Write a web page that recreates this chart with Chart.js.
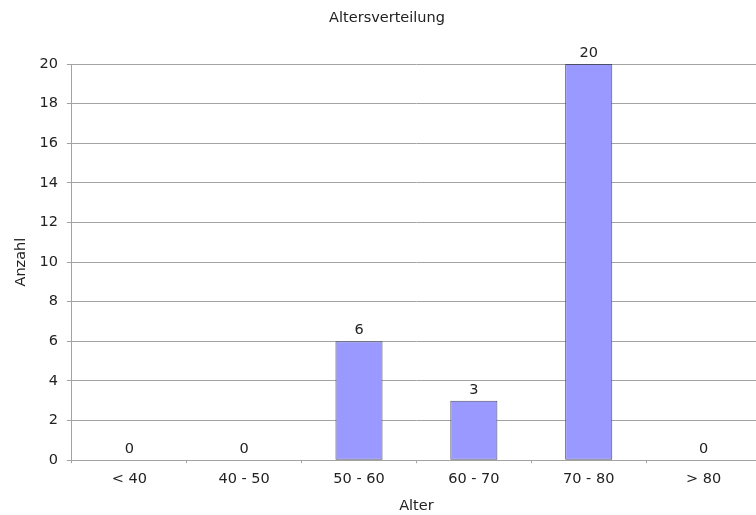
<!DOCTYPE html>
<html>
<head>
<meta charset="utf-8">
<script src="https://cdn.jsdelivr.net/npm/chart.js@4/dist/chart.umd.min.js"></script>
<style>
  html, body { margin: 0; padding: 0; background: #fff; overflow: hidden; }
  #wrap { width: 770px; height: 515px; }
</style>
</head>
<body>
<div id="wrap"><canvas id="chart" width="770" height="515"></canvas></div>
<script>
const categories = [`< 40`, `40 - 50`, `50 - 60`, `60 - 70`, `70 - 80`, `> 80`];
const counts = [0, 0, 6, 3, 20, 0];
const chartTitle = `Altersverteilung`;
const xTitle = `Alter`;
const yTitle = `Anzahl`;

const FONT = `"DejaVu Sans", Verdana, sans-serif`;
const FONT_SIZE = 14.5;
const TEXT_COLOR = `#222`;
const GRID_COLOR = `#a3a3a3`;

// values above the bars
const valueLabels = {
  id: `valueLabels`,
  afterDatasetsDraw(chart) {
    const {ctx} = chart;
    const meta = chart.getDatasetMeta(0);
    ctx.save();
    ctx.font = `${FONT_SIZE}px ${FONT}`;
    ctx.fillStyle = TEXT_COLOR;
    ctx.textAlign = `center`;
    ctx.textBaseline = `alphabetic`;
    meta.data.forEach((bar, i) => {
      ctx.fillText(String(counts[i]), bar.x, bar.y - 7);
    });
    ctx.restore();
  }
};

new Chart(document.getElementById(`chart`), {
  type: `bar`,
  data: {
    labels: categories,
    datasets: [{
      data: counts,
      backgroundColor: `#9999ff`,
      borderColor: `#4d4d66`,
      borderWidth: 1,
      borderSkipped: false,
      barPercentage: 0.41,
      categoryPercentage: 1
    }]
  },
  options: {
    responsive: false,
    animation: false,
    layout: {padding: {top: 10, right: 9, bottom: 0, left: 13}},
    plugins: {
      legend: {display: false},
      tooltip: {enabled: false},
      title: {
        display: true,
        text: chartTitle,
        color: TEXT_COLOR,
        font: {family: FONT, size: FONT_SIZE, weight: `normal`},
        padding: {top: 0, bottom: 36.6}
      }
    },
    scales: {
      x: {
        offset: true,
        grid: {
          offset: true,
          drawOnChartArea: false,
          drawTicks: true,
          tickLength: 3,
          color: GRID_COLOR
        },
        border: {color: GRID_COLOR},
        ticks: {color: TEXT_COLOR, font: {family: FONT, size: FONT_SIZE}, padding: 7},
        title: {
          display: true,
          text: xTitle,
          color: TEXT_COLOR,
          font: {family: FONT, size: FONT_SIZE},
          padding: {top: 3, bottom: 0}
        }
      },
      y: {
        min: 0,
        max: 20,
        ticks: {stepSize: 2, color: TEXT_COLOR, font: {family: FONT, size: FONT_SIZE}, padding: 9},
        grid: {color: GRID_COLOR, tickLength: 5},
        border: {color: GRID_COLOR},
        title: {
          display: true,
          text: yTitle,
          color: TEXT_COLOR,
          font: {family: FONT, size: FONT_SIZE},
          padding: {top: 0, bottom: 0}
        }
      }
    }
  },
  plugins: [valueLabels]
});
</script>
</body>
</html>
